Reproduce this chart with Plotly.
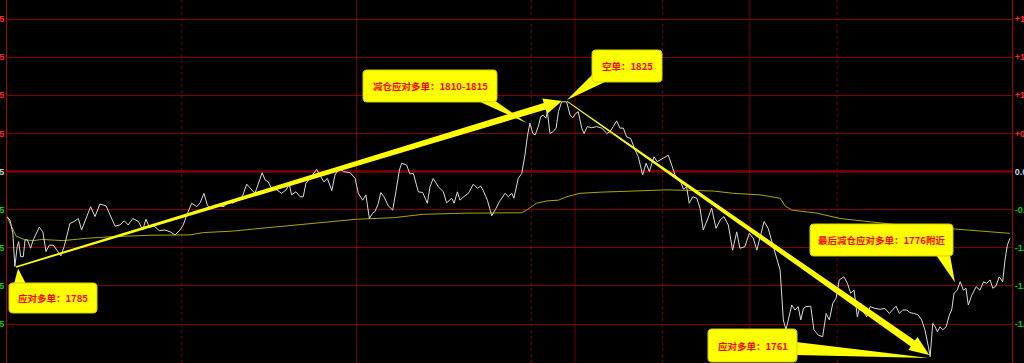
import plotly.graph_objects as go

# ---------------- data ----------------
# minutes since session open (night 21:00 .. day 15:00, 345 trading minutes)
price_time = [0, 1.0, 2.0, 2.7, 3.5, 4.0, 4.7, 5.6, 6.2, 7.0,
              8.1, 9.0, 11.1, 12.3, 13.4, 14.5, 15.9, 17.1, 18.5, 19.6,
              21.6, 23.0, 24.5, 25.6, 27.1, 28.7, 30.2, 31.9, 34.0, 35.4,
              37.1, 38.8, 40.2, 41.6, 43.2, 45.1, 46.6, 47.7, 48.9, 50.5,
              52.3, 54.2, 56.0, 57.7, 59.4, 60.5, 61.7, 63.4, 65.1, 66.3,
              67.6, 68.8, 69.7, 71.4, 73.1, 74.5, 76.0, 77.7, 79.1, 80.6,
              82.3, 84.0, 85.1, 85.9, 87.6, 88.6, 89.7, 90.9, 92.6, 94.3,
              95.8, 96.9, 97.7, 99.2, 100.6, 101.7, 102.6, 104.0, 106.3, 107.7,
              108.8, 110.0, 111.5, 112.6, 114.1, 115.5, 117.8, 119.5, 120.6, 122.1,
              123.2, 124.4, 125.5, 126.3, 127.5, 128.3, 129.4, 130.9, 132.4, 133.5,
              134.7, 135.5, 137.2, 138.3, 139.5, 141.2, 142.7, 144.3, 145.2, 146.3,
              148.1, 149.8, 150.9, 152.7, 153.5, 154.6, 155.5, 156.6, 158.4, 160.1,
              161.5, 162.6, 163.5, 164.9, 166.4, 167.9, 169.0, 171.0, 172.1, 173.3,
              174.0, 175.5, 176.7, 177.8, 178.6, 179.5, 180.5, 181.3, 182.4, 183.2,
              184.1, 185.0, 185.5, 186.4, 187.5, 188.5, 189.3, 190.4, 192.1, 193.3,
              194.2, 195.3, 196.1, 197.3, 198.1, 199.2, 200.7, 202.4, 204.2, 205.9,
              207.0, 208.1, 209.3, 210.4, 211.6, 212.7, 214.1, 215.6, 216.7, 218.2,
              219.4, 220.5, 222.1, 223.2, 225.3, 227.0, 228.2, 229.3, 231.0, 232.2,
              233.3, 234.2, 235.4, 236.8, 237.9, 239.0, 240.4, 241.9, 243.4, 244.8,
              246.1, 247.6, 249.1, 250.5, 251.6, 253.3, 254.8, 256.2, 257.4, 258.5,
              259.9, 261.3, 262.5, 264.2, 265.4, 266.5, 267.4, 268.2, 269.4, 270.5,
              271.6, 272.5, 273.4, 274.3, 275.9, 277.0, 278.5, 280.0, 281.2, 282.3,
              283.5, 284.6, 285.7, 287.3, 288.5, 289.6, 290.8, 291.9, 293.1, 294.0,
              295.1, 296.3, 298.0, 299.7, 301.4, 302.9, 304.1, 305.2, 306.3, 307.5,
              308.9, 310.0, 311.4, 312.8, 314.0, 315.1, 316.3, 316.9, 317.8, 318.6,
              319.4, 320.3, 321.2, 322.4, 323.5, 324.3, 325.1, 326.2, 327.2, 328.3,
              329.2, 330.0, 331.2, 332.7, 334.0, 335.2, 336.3, 337.5, 338.4, 339.5,
              340.6, 341.8, 342.6, 343.4, 344.3]

price = [1793.2, 1792.3, 1788.9, 1780.1, 1785.3, 1786.6, 1782.7, 1782.7, 1787.1, 1787.1,
         1784.9, 1787.1, 1790.4, 1789.2, 1784.0, 1785.7, 1785.7, 1784.4, 1782.9, 1785.3,
         1791.4, 1791.9, 1792.7, 1789.7, 1792.7, 1795.8, 1793.2, 1796.5, 1796.0, 1793.6,
         1790.7, 1791.0, 1792.1, 1791.0, 1792.7, 1791.9, 1789.7, 1792.5, 1790.4, 1790.7,
         1789.5, 1789.7, 1789.2, 1788.4, 1789.7, 1791.0, 1793.6, 1796.7, 1795.8, 1796.8,
         1799.3, 1796.2, 1795.4, 1796.2, 1796.0, 1795.8, 1797.1, 1796.7, 1798.0, 1798.0,
         1801.7, 1800.2, 1799.3, 1801.0, 1804.7, 1802.8, 1802.3, 1800.4, 1800.2, 1799.3,
         1800.2, 1801.7, 1798.9, 1799.7, 1798.4, 1798.4, 1801.9, 1803.2, 1805.6, 1803.7,
         1802.3, 1803.2, 1800.0, 1804.1, 1805.9, 1805.0, 1804.7, 1803.2, 1799.3, 1797.5,
         1798.9, 1792.7, 1794.1, 1794.5, 1796.7, 1799.5, 1798.4, 1796.0, 1794.9, 1799.7,
         1805.4, 1807.2, 1806.7, 1804.4, 1804.5, 1799.7, 1799.5, 1796.7, 1801.0, 1803.2,
         1801.0, 1799.7, 1796.8, 1798.0, 1796.7, 1799.7, 1797.5, 1798.3, 1799.3, 1801.7,
         1800.6, 1801.2, 1800.0, 1797.5, 1793.4, 1795.4, 1797.1, 1799.3, 1798.4, 1799.3,
         1798.0, 1803.2, 1804.5, 1809.3, 1814.1, 1817.7, 1815.0, 1814.6, 1816.8, 1819.4,
         1819.8, 1819.0, 1820.7, 1815.0, 1815.5, 1816.4, 1820.7, 1823.3, 1823.3, 1819.8,
         1819.1, 1820.3, 1820.7, 1816.4, 1815.0, 1816.8, 1816.5, 1816.8, 1816.4, 1815.0,
         1815.5, 1816.8, 1818.3, 1816.4, 1816.4, 1814.1, 1813.7, 1810.7, 1808.9, 1804.1,
         1807.2, 1805.0, 1808.9, 1807.6, 1808.5, 1809.3, 1806.7, 1804.1, 1802.8, 1800.4,
         1801.0, 1796.7, 1798.4, 1798.0, 1795.4, 1789.7, 1792.3, 1795.4, 1790.1, 1792.3,
         1793.2, 1791.0, 1784.4, 1789.2, 1784.9, 1785.3, 1788.8, 1787.5, 1784.4, 1787.5,
         1791.9, 1790.1, 1786.6, 1782.3, 1779.2, 1766.1, 1763.5, 1766.1, 1770.0, 1768.7,
         1769.6, 1766.1, 1769.1, 1769.6, 1769.7, 1763.5, 1762.1, 1761.7, 1767.8, 1766.1,
         1770.5, 1771.8, 1776.6, 1777.4, 1775.7, 1773.1, 1773.9, 1766.9, 1770.5, 1768.3,
         1766.9, 1769.6, 1769.1, 1768.9, 1769.1, 1767.8, 1768.7, 1769.7, 1767.8, 1768.7,
         1768.7, 1768.0, 1767.8, 1767.4, 1766.1, 1763.5, 1759.1, 1756.5, 1765.2, 1764.3,
         1763.0, 1764.3, 1763.5, 1764.3, 1767.4, 1768.7, 1773.1, 1773.9, 1776.1, 1773.9,
         1774.4, 1770.0, 1772.6, 1774.8, 1773.9, 1776.1, 1775.7, 1776.6, 1774.4, 1775.0,
         1777.4, 1776.1, 1781.8, 1785.7, 1787.5]

avg_time = [0, 2.0, 3.1, 6.2, 9.0, 11.9, 14.8, 19.3, 27.4, 35.4,
            49.1, 62.8, 67.4, 77.7, 86.9, 94.9, 106.3, 120.0, 132.6, 142.9,
            157.8, 176.7, 178.4, 181.8, 185.3, 189.3, 192.1, 196.7, 203.6, 215.0,
            226.5, 233.3, 242.5, 249.3, 258.5, 265.4, 267.1, 269.4, 278.0, 286.0,
            298.6, 312.3, 326.1, 335.2, 344.3]
avg_price = [1793.2, 1789.7, 1788.1, 1787.1, 1786.9, 1787.2, 1787.1, 1786.9, 1787.5, 1787.9,
             1788.3, 1788.4, 1789.0, 1789.4, 1790.1, 1790.7, 1791.4, 1792.5, 1792.9, 1793.8,
             1794.1, 1794.2, 1794.9, 1796.7, 1797.3, 1797.5, 1798.4, 1799.3, 1799.6, 1799.9,
             1800.2, 1800.1, 1799.9, 1799.3, 1798.9, 1798.0, 1796.0, 1794.9, 1794.1, 1792.7,
             1791.6, 1790.5, 1789.9, 1789.4, 1788.8]

prev_settle = 1805
grid_prices = [1845, 1835, 1825, 1815, 1805, 1795, 1785, 1775, 1765, 1755]
pct_labels = ["+1.99%", "+1.49%", "+1.00%", "+0.50%", "0.00%",
              "-0.50%", "-1.00%", "-1.49%", "-1.99%", "-2.49%"]

session_solid = [120, 195, 255]
session_dash = [60, 180, 225, 285]

# arrows: (time, price) start -> tip
arrow_up = [(3.1, 1780.0), (190.5, 1823.5)]
arrow_down = [(192.3, 1823.4), (316.6, 1756.9)]

callout_texts = ["应对多单：1785", "减仓应对多单：1810-1815", "空单：1825",
                 "最后减仓应对多单：1776附近", "应对多单：1761"]
callout_points = [(3.8, 1779.6), (178.5, 1817.7), (192.2, 1823.8), (325.4, 1776.0), (316.5, 1756.1)]

# ---------------- layout geometry ----------------
W, H = 1024, 363
ML, MR, MT, MB = 7, 12, 0, 0
X_RANGE = [0, 345]
Y_RANGE = [1754.8, 1850]
PW, PH = W - ML - MR, H - MT - MB


def d2px(t, p):
    x = ML + (t - X_RANGE[0]) / (X_RANGE[1] - X_RANGE[0]) * PW
    y = MT + (Y_RANGE[1] - p) / (Y_RANGE[1] - Y_RANGE[0]) * PH
    return x, y


def P(x, y):
    return "%.5f,%.5f" % ((x - ML) / PW, 1 - (y - MT) / PH)


def poly_path(pts):
    return "M " + " L ".join(P(x, y) for x, y in pts) + " Z"


def rr_path(x0, y0, x1, y1, r):
    return (f"M {P(x0 + r, y0)} L {P(x1 - r, y0)} Q {P(x1, y0)} {P(x1, y0 + r)} "
            f"L {P(x1, y1 - r)} Q {P(x1, y1)} {P(x1 - r, y1)} L {P(x0 + r, y1)} "
            f"Q {P(x0, y1)} {P(x0, y1 - r)} L {P(x0, y0 + r)} Q {P(x0, y0)} {P(x0 + r, y0)} Z")


def arrow_poly(a, b, w0, w1, hl, hw):
    sx, sy = d2px(*a)
    ex, ey = d2px(*b)
    dx, dy = ex - sx, ey - sy
    L = (dx * dx + dy * dy) ** 0.5
    ux, uy = dx / L, dy / L
    nx, ny = -uy, ux
    hx, hy = ex - ux * hl, ey - uy * hl
    return [(sx + nx * w0, sy + ny * w0), (hx + nx * w1, hy + ny * w1),
            (hx + nx * hw, hy + ny * hw), (ex, ey),
            (hx - nx * hw, hy - ny * hw), (hx - nx * w1, hy - ny * w1),
            (sx - nx * w0, sy - ny * w0)]


YEL = "#FFFF00"
RED_TXT = "#FF0000"

fig = go.Figure()
fig.add_trace(go.Scatter(x=avg_time, y=avg_price, mode="lines",
                         line=dict(color="#A8A800", width=1), hoverinfo="skip"))
fig.add_trace(go.Scatter(x=price_time, y=price, mode="lines",
                         line=dict(color="#DADADA", width=1), hoverinfo="skip"))
fig.add_trace(go.Scatter(x=price_time, y=price, mode="lines", yaxis="y2",
                         line=dict(color="rgba(0,0,0,0)", width=0), hoverinfo="skip"))

shapes = []
for t in session_solid:
    shapes.append(dict(type="line", xref="x", yref="paper", x0=t, x1=t, y0=0, y1=1,
                       line=dict(color="#7A0000", width=1), layer="below"))
for t in session_dash:
    shapes.append(dict(type="line", xref="x", yref="paper", x0=t, x1=t, y0=0, y1=1,
                       line=dict(color="#7A0000", width=1, dash="3px,3px"), layer="below"))
shapes.append(dict(type="line", xref="paper", yref="y", x0=0, x1=1, y0=prev_settle, y1=prev_settle,
                   line=dict(color="#C00000", width=2), layer="below"))

# arrows
shapes.append(dict(type="path", xref="paper", yref="paper",
                   path=poly_path(arrow_poly(arrow_up[0], arrow_up[1], 0.8, 3.4, 18, 8)),
                   fillcolor=YEL, line=dict(width=0), layer="above"))
shapes.append(dict(type="path", xref="paper", yref="paper",
                   path=poly_path(arrow_poly(arrow_down[0], arrow_down[1], 0.4, 3.6, 20, 8)),
                   fillcolor=YEL, line=dict(width=0), layer="above"))

# callout boxes (pixel layout) + tails pointing at data anchors
boxes = [(9, 283, 97, 313), (363, 70, 497, 102), (592, 50, 662, 82),
         (810, 224, 953, 256), (708, 329, 797, 362)]
bases = [((14, 284), (26, 284)), ((478, 101), (494, 100)), ((593, 74), (607, 81)),
         ((936, 255), (950, 255)), ((796, 342), (796, 355))]
annotations = []
for txt, box, base, pt in zip(callout_texts, boxes, bases, callout_points):
    ax, ay = d2px(*pt)
    shapes.append(dict(type="path", xref="paper", yref="paper",
                       path=poly_path([base[0], (ax, ay), base[1]]),
                       fillcolor=YEL, line=dict(width=0), layer="above"))
    shapes.append(dict(type="path", xref="paper", yref="paper",
                       path=rr_path(*box, 4), fillcolor=YEL,
                       line=dict(color="#CFCF00", width=1), layer="above"))
    cx = ((box[0] + box[2]) / 2 - ML) / PW
    cy = 1 - ((box[1] + box[3]) / 2 - MT) / PH
    annotations.append(dict(x=cx, y=cy, xref="paper", yref="paper", text=txt,
                            showarrow=False, xanchor="center", yanchor="middle",
                            font=dict(family="Noto Sans CJK SC", size=9.5, color=RED_TXT, weight="bold")))


def col(p):
    return "#FF2A2A" if p > prev_settle else ("#C8C8C8" if p == prev_settle else "#19C819")


left_text = ['<span style="color:%s">%d</span>' % (col(p), p) for p in grid_prices]
right_text = ['<span style="color:%s">%s</span>' % ("#C8D4E8" if p == prev_settle else col(p), s)
              for p, s in zip(grid_prices, pct_labels)]

fig.update_layout(
    width=W, height=H,
    margin=dict(l=ML, r=MR, t=MT, b=MB, pad=0, autoexpand=False),
    paper_bgcolor="#000000", plot_bgcolor="#000000",
    showlegend=False,
    xaxis=dict(range=X_RANGE, showgrid=False, zeroline=False, showticklabels=False,
               showline=False, ticks="", automargin=False),
    yaxis=dict(range=Y_RANGE, tickvals=grid_prices, ticktext=left_text,
               showgrid=True, gridcolor="#800000", gridwidth=1, zeroline=False,
               showline=True, linecolor="#B00000", linewidth=1, ticks="", automargin=False,
               tickfont=dict(family="Liberation Sans", size=9, weight="bold")),
    yaxis2=dict(range=Y_RANGE, overlaying="y", side="right", tickvals=grid_prices,
                ticktext=right_text, showgrid=False, zeroline=False, automargin=False,
                showline=True, linecolor="#B00000", linewidth=1, ticks="",
                tickfont=dict(family="Liberation Sans", size=9, weight="bold")),
    shapes=shapes,
    annotations=annotations,
)

fig.write_html("out.html")
